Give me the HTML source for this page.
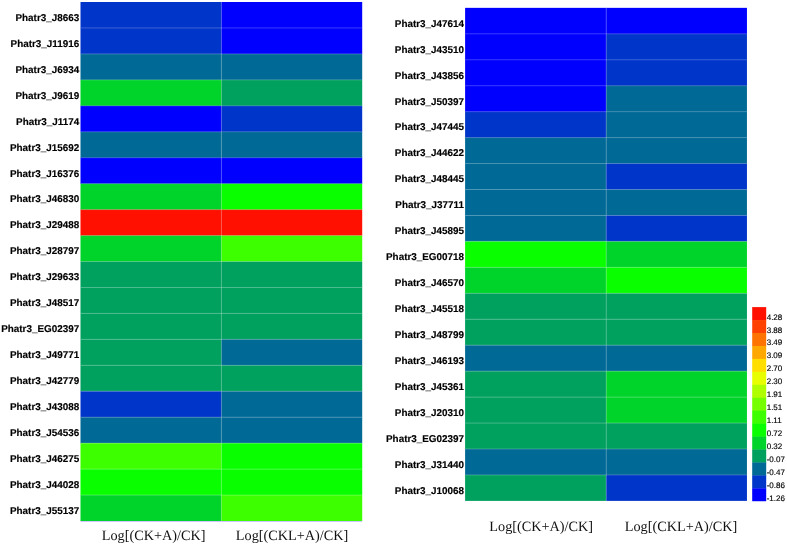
<!DOCTYPE html>
<html><head><meta charset="utf-8"><title>Heatmap</title>
<style>
html,body{margin:0;padding:0;background:#fff;}
body{width:787px;height:545px;overflow:hidden;}
svg{display:block;text-rendering:geometricPrecision;}
.r{font-family:"Liberation Sans",Arial,sans-serif;font-weight:bold;font-size:9.9px;text-anchor:end;fill:#000;stroke:#000;stroke-width:0.15px;}
.c{font-family:"Liberation Serif","Times New Roman",serif;font-size:14.25px;fill:#111;}
.l{font-family:"Liberation Sans",Arial,sans-serif;font-size:8px;fill:#000;stroke:#000;stroke-width:0.15px;}
.g{stroke:#fff;stroke-opacity:0.26;stroke-width:0.9;}
</style></head>
<body>
<svg width="787" height="545" viewBox="0 0 787 545">
<rect x="0" y="0" width="787" height="545" fill="#fff"/>
<rect x="80.5" y="2.00" width="141.20" height="26.25" fill="#0035ca"/>
<rect x="221.4" y="2.00" width="140.80" height="26.25" fill="#0000ff"/>
<rect x="80.5" y="27.95" width="141.20" height="26.25" fill="#0035ca"/>
<rect x="221.4" y="27.95" width="140.80" height="26.25" fill="#0000ff"/>
<rect x="80.5" y="53.90" width="141.20" height="26.25" fill="#006996"/>
<rect x="221.4" y="53.90" width="140.80" height="26.25" fill="#006996"/>
<rect x="80.5" y="79.85" width="141.20" height="26.25" fill="#00d42b"/>
<rect x="221.4" y="79.85" width="140.80" height="26.25" fill="#00a05f"/>
<rect x="80.5" y="105.80" width="141.20" height="26.25" fill="#0000ff"/>
<rect x="221.4" y="105.80" width="140.80" height="26.25" fill="#0035ca"/>
<rect x="80.5" y="131.75" width="141.20" height="26.25" fill="#006996"/>
<rect x="221.4" y="131.75" width="140.80" height="26.25" fill="#006996"/>
<rect x="80.5" y="157.70" width="141.20" height="26.25" fill="#0000ff"/>
<rect x="221.4" y="157.70" width="140.80" height="26.25" fill="#0000ff"/>
<rect x="80.5" y="183.65" width="141.20" height="26.25" fill="#00d42b"/>
<rect x="221.4" y="183.65" width="140.80" height="26.25" fill="#09ff00"/>
<rect x="80.5" y="209.60" width="141.20" height="26.25" fill="#ff1000"/>
<rect x="221.4" y="209.60" width="140.80" height="26.25" fill="#ff1000"/>
<rect x="80.5" y="235.55" width="141.20" height="26.25" fill="#00d42b"/>
<rect x="221.4" y="235.55" width="140.80" height="26.25" fill="#3eff00"/>
<rect x="80.5" y="261.50" width="141.20" height="26.25" fill="#00a05f"/>
<rect x="221.4" y="261.50" width="140.80" height="26.25" fill="#00a05f"/>
<rect x="80.5" y="287.45" width="141.20" height="26.25" fill="#00a05f"/>
<rect x="221.4" y="287.45" width="140.80" height="26.25" fill="#00a05f"/>
<rect x="80.5" y="313.40" width="141.20" height="26.25" fill="#00a05f"/>
<rect x="221.4" y="313.40" width="140.80" height="26.25" fill="#00a05f"/>
<rect x="80.5" y="339.35" width="141.20" height="26.25" fill="#00a05f"/>
<rect x="221.4" y="339.35" width="140.80" height="26.25" fill="#006996"/>
<rect x="80.5" y="365.30" width="141.20" height="26.25" fill="#00a05f"/>
<rect x="221.4" y="365.30" width="140.80" height="26.25" fill="#00a05f"/>
<rect x="80.5" y="391.25" width="141.20" height="26.25" fill="#0035ca"/>
<rect x="221.4" y="391.25" width="140.80" height="26.25" fill="#006996"/>
<rect x="80.5" y="417.20" width="141.20" height="26.25" fill="#006996"/>
<rect x="221.4" y="417.20" width="140.80" height="26.25" fill="#006996"/>
<rect x="80.5" y="443.15" width="141.20" height="26.25" fill="#3eff00"/>
<rect x="221.4" y="443.15" width="140.80" height="26.25" fill="#09ff00"/>
<rect x="80.5" y="469.10" width="141.20" height="26.25" fill="#09ff00"/>
<rect x="221.4" y="469.10" width="140.80" height="26.25" fill="#09ff00"/>
<rect x="80.5" y="495.05" width="141.20" height="26.25" fill="#00d42b"/>
<rect x="221.4" y="495.05" width="140.80" height="26.25" fill="#3eff00"/>
<rect x="79.5" y="521.00" width="283.70" height="1.5" fill="#fff"/>
<rect x="80.5" y="521.00" width="281.70" height="0.8" fill="#b8acff" fill-opacity="0.85"/>
<line x1="80.5" y1="27.95" x2="362.2" y2="27.95" class="g"/>
<line x1="80.5" y1="53.90" x2="362.2" y2="53.90" class="g"/>
<line x1="80.5" y1="79.85" x2="362.2" y2="79.85" class="g"/>
<line x1="80.5" y1="105.80" x2="362.2" y2="105.80" class="g"/>
<line x1="80.5" y1="131.75" x2="362.2" y2="131.75" class="g"/>
<line x1="80.5" y1="157.70" x2="362.2" y2="157.70" class="g"/>
<line x1="80.5" y1="183.65" x2="362.2" y2="183.65" class="g"/>
<line x1="80.5" y1="209.60" x2="362.2" y2="209.60" class="g"/>
<line x1="80.5" y1="235.55" x2="362.2" y2="235.55" class="g"/>
<line x1="80.5" y1="261.50" x2="362.2" y2="261.50" class="g"/>
<line x1="80.5" y1="287.45" x2="362.2" y2="287.45" class="g"/>
<line x1="80.5" y1="313.40" x2="362.2" y2="313.40" class="g"/>
<line x1="80.5" y1="339.35" x2="362.2" y2="339.35" class="g"/>
<line x1="80.5" y1="365.30" x2="362.2" y2="365.30" class="g"/>
<line x1="80.5" y1="391.25" x2="362.2" y2="391.25" class="g"/>
<line x1="80.5" y1="417.20" x2="362.2" y2="417.20" class="g"/>
<line x1="80.5" y1="443.15" x2="362.2" y2="443.15" class="g"/>
<line x1="80.5" y1="469.10" x2="362.2" y2="469.10" class="g"/>
<line x1="80.5" y1="495.05" x2="362.2" y2="495.05" class="g"/>
<line x1="221.4" y1="2.0" x2="221.4" y2="521.00" class="g"/>
<text x="79.2" y="20.80" class="r">Phatr3_J8663</text>
<text x="79.2" y="46.75" class="r">Phatr3_J11916</text>
<text x="79.2" y="72.70" class="r">Phatr3_J6934</text>
<text x="79.2" y="98.65" class="r">Phatr3_J9619</text>
<text x="79.2" y="124.60" class="r">Phatr3_J1174</text>
<text x="79.2" y="150.55" class="r">Phatr3_J15692</text>
<text x="79.2" y="176.50" class="r">Phatr3_J16376</text>
<text x="79.2" y="202.45" class="r">Phatr3_J46830</text>
<text x="79.2" y="228.40" class="r">Phatr3_J29488</text>
<text x="79.2" y="254.35" class="r">Phatr3_J28797</text>
<text x="79.2" y="280.30" class="r">Phatr3_J29633</text>
<text x="79.2" y="306.25" class="r">Phatr3_J48517</text>
<text x="79.2" y="332.20" class="r">Phatr3_EG02397</text>
<text x="79.2" y="358.15" class="r">Phatr3_J49771</text>
<text x="79.2" y="384.10" class="r">Phatr3_J42779</text>
<text x="79.2" y="410.05" class="r">Phatr3_J43088</text>
<text x="79.2" y="436.00" class="r">Phatr3_J54536</text>
<text x="79.2" y="461.95" class="r">Phatr3_J46275</text>
<text x="79.2" y="487.90" class="r">Phatr3_J44028</text>
<text x="79.2" y="513.85" class="r">Phatr3_J55137</text>
<text x="101.7" y="539.8" class="c">Log[(CK+A)/CK]</text>
<text x="235.8" y="539.8" class="c">Log[(CKL+A)/CK]</text>
<rect x="465.1" y="7.85" width="141.40" height="26.25" fill="#0000ff"/>
<rect x="606.2" y="7.85" width="140.75" height="26.25" fill="#0000ff"/>
<rect x="465.1" y="33.80" width="141.40" height="26.25" fill="#0000ff"/>
<rect x="606.2" y="33.80" width="140.75" height="26.25" fill="#0035ca"/>
<rect x="465.1" y="59.75" width="141.40" height="26.25" fill="#0000ff"/>
<rect x="606.2" y="59.75" width="140.75" height="26.25" fill="#0035ca"/>
<rect x="465.1" y="85.70" width="141.40" height="26.25" fill="#0000ff"/>
<rect x="606.2" y="85.70" width="140.75" height="26.25" fill="#006996"/>
<rect x="465.1" y="111.65" width="141.40" height="26.25" fill="#0035ca"/>
<rect x="606.2" y="111.65" width="140.75" height="26.25" fill="#006996"/>
<rect x="465.1" y="137.60" width="141.40" height="26.25" fill="#006996"/>
<rect x="606.2" y="137.60" width="140.75" height="26.25" fill="#006996"/>
<rect x="465.1" y="163.55" width="141.40" height="26.25" fill="#006996"/>
<rect x="606.2" y="163.55" width="140.75" height="26.25" fill="#0035ca"/>
<rect x="465.1" y="189.50" width="141.40" height="26.25" fill="#006996"/>
<rect x="606.2" y="189.50" width="140.75" height="26.25" fill="#006996"/>
<rect x="465.1" y="215.45" width="141.40" height="26.25" fill="#006996"/>
<rect x="606.2" y="215.45" width="140.75" height="26.25" fill="#0035ca"/>
<rect x="465.1" y="241.40" width="141.40" height="26.25" fill="#09ff00"/>
<rect x="606.2" y="241.40" width="140.75" height="26.25" fill="#00d42b"/>
<rect x="465.1" y="267.35" width="141.40" height="26.25" fill="#00d42b"/>
<rect x="606.2" y="267.35" width="140.75" height="26.25" fill="#09ff00"/>
<rect x="465.1" y="293.30" width="141.40" height="26.25" fill="#00a05f"/>
<rect x="606.2" y="293.30" width="140.75" height="26.25" fill="#00a05f"/>
<rect x="465.1" y="319.25" width="141.40" height="26.25" fill="#00a05f"/>
<rect x="606.2" y="319.25" width="140.75" height="26.25" fill="#00a05f"/>
<rect x="465.1" y="345.20" width="141.40" height="26.25" fill="#006996"/>
<rect x="606.2" y="345.20" width="140.75" height="26.25" fill="#006996"/>
<rect x="465.1" y="371.15" width="141.40" height="26.25" fill="#00a05f"/>
<rect x="606.2" y="371.15" width="140.75" height="26.25" fill="#00d42b"/>
<rect x="465.1" y="397.10" width="141.40" height="26.25" fill="#00a05f"/>
<rect x="606.2" y="397.10" width="140.75" height="26.25" fill="#00d42b"/>
<rect x="465.1" y="423.05" width="141.40" height="26.25" fill="#00a05f"/>
<rect x="606.2" y="423.05" width="140.75" height="26.25" fill="#00a05f"/>
<rect x="465.1" y="449.00" width="141.40" height="26.25" fill="#006996"/>
<rect x="606.2" y="449.00" width="140.75" height="26.25" fill="#006996"/>
<rect x="465.1" y="474.95" width="141.40" height="26.25" fill="#00a05f"/>
<rect x="606.2" y="474.95" width="140.75" height="26.25" fill="#0035ca"/>
<rect x="464.1" y="500.90" width="283.85" height="1.5" fill="#fff"/>
<line x1="465.1" y1="33.80" x2="746.95" y2="33.80" class="g"/>
<line x1="465.1" y1="59.75" x2="746.95" y2="59.75" class="g"/>
<line x1="465.1" y1="85.70" x2="746.95" y2="85.70" class="g"/>
<line x1="465.1" y1="111.65" x2="746.95" y2="111.65" class="g"/>
<line x1="465.1" y1="137.60" x2="746.95" y2="137.60" class="g"/>
<line x1="465.1" y1="163.55" x2="746.95" y2="163.55" class="g"/>
<line x1="465.1" y1="189.50" x2="746.95" y2="189.50" class="g"/>
<line x1="465.1" y1="215.45" x2="746.95" y2="215.45" class="g"/>
<line x1="465.1" y1="241.40" x2="746.95" y2="241.40" class="g"/>
<line x1="465.1" y1="267.35" x2="746.95" y2="267.35" class="g"/>
<line x1="465.1" y1="293.30" x2="746.95" y2="293.30" class="g"/>
<line x1="465.1" y1="319.25" x2="746.95" y2="319.25" class="g"/>
<line x1="465.1" y1="345.20" x2="746.95" y2="345.20" class="g"/>
<line x1="465.1" y1="371.15" x2="746.95" y2="371.15" class="g"/>
<line x1="465.1" y1="397.10" x2="746.95" y2="397.10" class="g"/>
<line x1="465.1" y1="423.05" x2="746.95" y2="423.05" class="g"/>
<line x1="465.1" y1="449.00" x2="746.95" y2="449.00" class="g"/>
<line x1="465.1" y1="474.95" x2="746.95" y2="474.95" class="g"/>
<line x1="606.2" y1="7.85" x2="606.2" y2="500.90" class="g"/>
<text x="464.0" y="26.65" class="r">Phatr3_J47614</text>
<text x="464.0" y="52.60" class="r">Phatr3_J43510</text>
<text x="464.0" y="78.55" class="r">Phatr3_J43856</text>
<text x="464.0" y="104.50" class="r">Phatr3_J50397</text>
<text x="464.0" y="130.45" class="r">Phatr3_J47445</text>
<text x="464.0" y="156.40" class="r">Phatr3_J44622</text>
<text x="464.0" y="182.35" class="r">Phatr3_J48445</text>
<text x="464.0" y="208.30" class="r">Phatr3_J37711</text>
<text x="464.0" y="234.25" class="r">Phatr3_J45895</text>
<text x="464.0" y="260.20" class="r">Phatr3_EG00718</text>
<text x="464.0" y="286.15" class="r">Phatr3_J46570</text>
<text x="464.0" y="312.10" class="r">Phatr3_J45518</text>
<text x="464.0" y="338.05" class="r">Phatr3_J48799</text>
<text x="464.0" y="364.00" class="r">Phatr3_J46193</text>
<text x="464.0" y="389.95" class="r">Phatr3_J45361</text>
<text x="464.0" y="415.90" class="r">Phatr3_J20310</text>
<text x="464.0" y="441.85" class="r">Phatr3_EG02397</text>
<text x="464.0" y="467.80" class="r">Phatr3_J31440</text>
<text x="464.0" y="493.75" class="r">Phatr3_J10068</text>
<text x="489.3" y="531.2" class="c">Log[(CK+A)/CK]</text>
<text x="624.7" y="531.2" class="c">Log[(CKL+A)/CK]</text>
<rect x="752.2" y="307.10" width="14" height="13.25" fill="#ff1000"/>
<rect x="752.2" y="320.05" width="14" height="13.25" fill="#ff4100"/>
<rect x="752.2" y="333.00" width="14" height="13.25" fill="#ff7300"/>
<rect x="752.2" y="345.95" width="14" height="13.25" fill="#ffa800"/>
<rect x="752.2" y="358.90" width="14" height="13.25" fill="#ffde00"/>
<rect x="752.2" y="371.85" width="14" height="13.25" fill="#e8ff00"/>
<rect x="752.2" y="384.80" width="14" height="13.25" fill="#afff00"/>
<rect x="752.2" y="397.75" width="14" height="13.25" fill="#76ff00"/>
<rect x="752.2" y="410.70" width="14" height="13.25" fill="#3eff00"/>
<rect x="752.2" y="423.65" width="14" height="13.25" fill="#09ff00"/>
<rect x="752.2" y="436.60" width="14" height="13.25" fill="#00d42b"/>
<rect x="752.2" y="449.55" width="14" height="13.25" fill="#00a05f"/>
<rect x="752.2" y="462.50" width="14" height="13.25" fill="#006996"/>
<rect x="752.2" y="475.45" width="14" height="13.25" fill="#0035ca"/>
<rect x="752.2" y="488.40" width="14" height="13.25" fill="#0000ff"/>
<rect x="751" y="501.35" width="17" height="1.5" fill="#fff"/>
<text x="766.7" y="319.55" class="l">4.28</text>
<text x="766.7" y="332.50" class="l">3.88</text>
<text x="766.7" y="345.45" class="l">3.49</text>
<text x="766.7" y="358.40" class="l">3.09</text>
<text x="766.7" y="371.35" class="l">2.70</text>
<text x="766.7" y="384.30" class="l">2.30</text>
<text x="766.7" y="397.25" class="l">1.91</text>
<text x="766.7" y="410.20" class="l">1.51</text>
<text x="766.7" y="423.15" class="l">1.11</text>
<text x="766.7" y="436.10" class="l">0.72</text>
<text x="766.7" y="449.05" class="l">0.32</text>
<text x="766.7" y="462.00" class="l">-0.07</text>
<text x="766.7" y="474.95" class="l">-0.47</text>
<text x="766.7" y="487.90" class="l">-0.86</text>
<text x="766.7" y="500.85" class="l">-1.26</text>
</svg>
</body></html>
